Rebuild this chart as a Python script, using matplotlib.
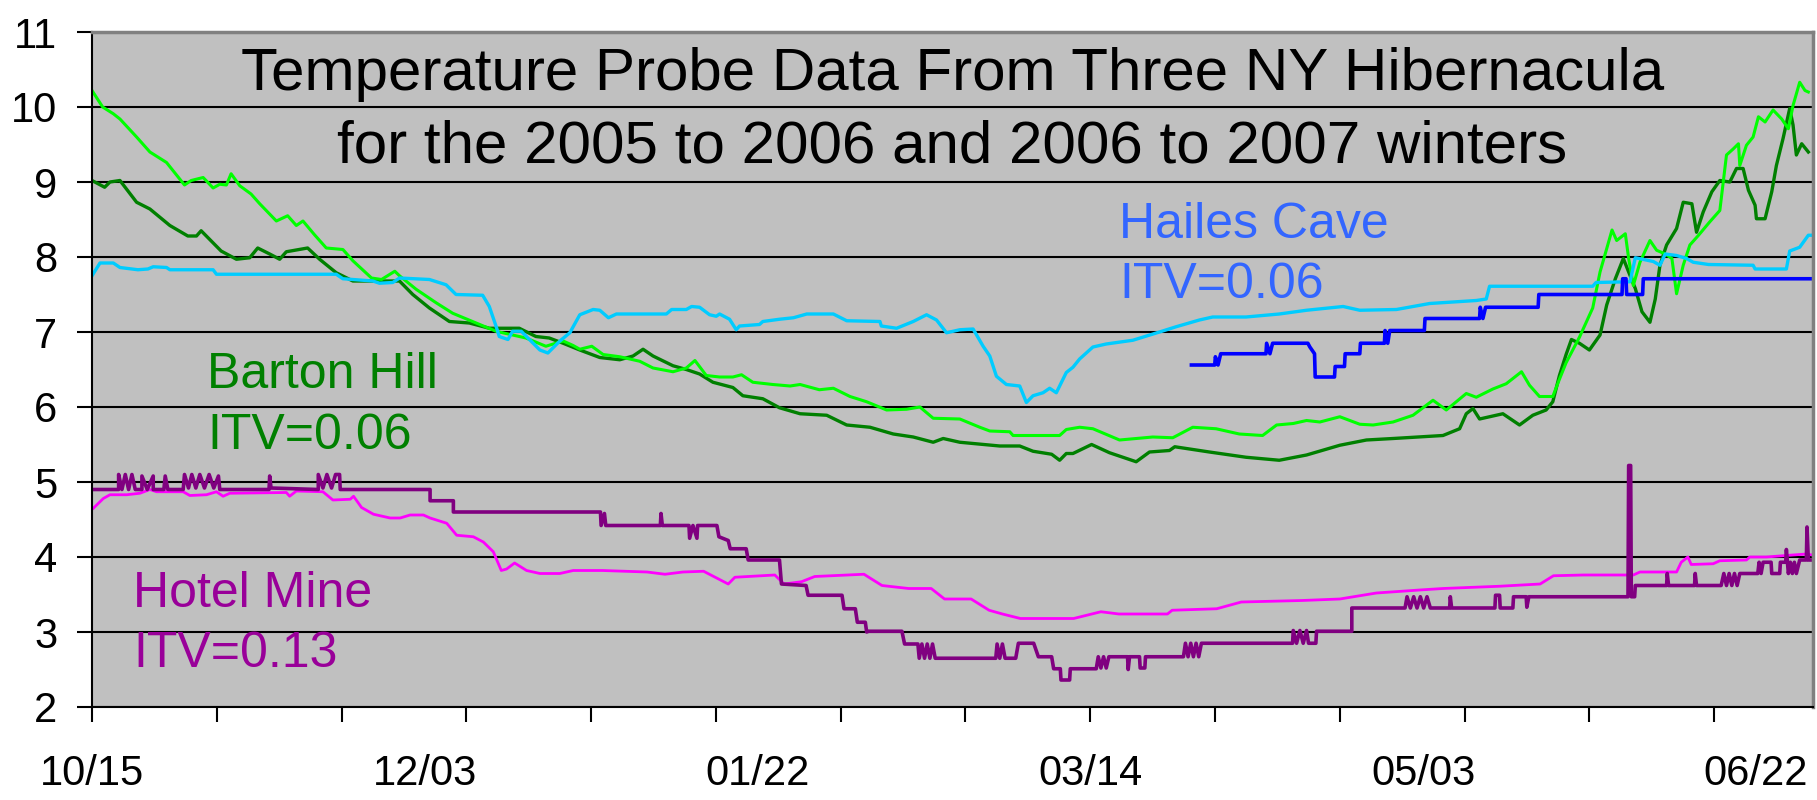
import numpy as np
import matplotlib
matplotlib.use("Agg")
import matplotlib.pyplot as plt

plt.rcParams['font.family'] = ['Liberation Sans', 'DejaVu Sans']

# x values are days counted from 10/15
# Barton Hill, first winter (light green)
barton_a_day = [0, 1.6, 3.2, 4.2, 6.7, 8.7, 11.2, 13.9, 14.9, 16.7, 18.2, 19.2, 20.2, 20.9, 22.2,
                23.9, 25.2, 27.7, 29.4, 30.7, 31.7, 33.4, 35.2, 37.7, 39.2, 42.0, 43.5, 45.5, 46.2,
                48.7, 51.7, 54.2, 57.7, 60.7, 65.2, 68.2, 70.8, 72.3, 73.3, 75.1, 76.8, 79.3, 82.3,
                84.3, 87.3, 89.3, 90.6, 92.3, 94.3, 96.3, 97.6, 99.3, 102.3, 104.9, 106.4, 109.3,
                111.4, 113.9, 116.4, 119.4, 122.4, 124.4, 126.4, 130.4, 133.4, 134.9, 137.9, 138.4,
                145.4, 146.4, 148.4, 150.4, 154.4, 159.4, 162.4, 165.4, 168.9, 172.4, 175.9, 178.0,
                180.5, 182.5, 184.5, 187.5, 190.5, 192.5, 195.5, 198.5, 201.5, 203.5, 206.5, 208.0,
                210.5, 212.5, 214.8, 216.0, 217.5, 219.5, 220.5, 221.5, 223.5, 225.5, 226.6, 228.4,
                229.1, 230.4, 230.9, 231.6, 232.6, 234.1, 235.1, 236.4, 237.4, 238.1, 239.1, 240.1,
                241.4, 243.1, 244.6, 245.6, 246.6, 247.4, 247.6, 248.6, 249.6, 250.4, 251.4, 252.6,
                253.9, 254.9, 255.6, 256.6, 257.4, 257.9]
barton_a_temp = [10.22, 10.0, 9.91, 9.84, 9.6, 9.4, 9.26, 8.96, 9.02, 9.06, 8.92, 8.97, 8.96, 9.11, 8.95,
                 8.84, 8.71, 8.48, 8.55, 8.42, 8.48, 8.30, 8.12, 8.10, 7.95, 7.72, 7.70, 7.81, 7.75,
                 7.57, 7.39, 7.25, 7.12, 7.01, 6.92, 6.81, 6.88, 6.82, 6.77, 6.81, 6.70, 6.67, 6.61,
                 6.52, 6.47, 6.52, 6.62, 6.42, 6.40, 6.40, 6.43, 6.33, 6.30, 6.28, 6.30, 6.23,
                 6.25, 6.14, 6.07, 5.96, 5.97, 6.0, 5.85, 5.84, 5.73, 5.68, 5.67, 5.62,
                 5.62, 5.70, 5.73, 5.71, 5.56, 5.60, 5.59, 5.73, 5.71, 5.64, 5.62, 5.76,
                 5.78, 5.82, 5.80, 5.87, 5.77, 5.76, 5.80, 5.89, 6.09, 5.96, 6.18, 6.13,
                 6.24, 6.31, 6.47, 6.29, 6.14, 6.14, 6.37, 6.59, 6.93, 7.32, 7.80, 8.36,
                 8.22, 8.31, 7.98, 7.62, 7.93, 8.22, 8.09, 8.04, 7.98, 7.51, 7.89, 8.16,
                 8.29, 8.47, 8.62, 9.36, 9.44, 9.51, 9.22, 9.49, 9.60, 9.87, 9.80, 9.96,
                 9.84, 9.71, 10.02, 10.33, 10.22, 10.20]

# Barton Hill, second winter (dark green)
barton_b_day = [0, 1.9, 2.7, 4.2, 6.7, 8.7, 11.7, 14.4, 15.7, 16.4, 19.4, 21.7, 23.7, 24.9, 26.7,
                28.2, 29.2, 32.4, 34.2, 36.7, 39.2, 46.2, 48.2, 50.7, 53.7, 56.7, 59.7, 64.2, 66.7,
                68.7, 70.8, 73.3, 74.8, 76.3, 79.3, 81.3, 82.8, 84.3, 87.3, 89.3, 91.3, 93.3, 96.3,
                97.8, 100.8, 103.3, 106.4, 110.4, 113.4, 116.9, 120.4, 123.4, 126.4, 127.9, 130.4,
                136.4, 139.4, 141.4, 144.2, 145.4, 146.4, 147.4, 150.2, 152.9, 156.9, 158.9, 161.9,
                162.7, 167.9, 173.4, 178.4, 182.5, 187.5, 191.5, 195.5, 203.0, 205.5, 206.5, 207.5,
                208.5, 212.0, 214.5, 216.5, 218.5, 219.5, 220.5, 221.5, 222.3, 223.5, 225.0, 226.6,
                227.6, 228.9, 230.1, 230.9, 231.9, 232.9, 234.1, 234.9, 235.6, 236.6, 238.1, 239.1,
                240.4, 241.1, 242.1, 243.4, 244.6, 246.1, 247.1, 248.1, 248.9, 249.9, 250.1, 251.4,
                252.4, 253.1, 254.1, 255.1, 255.6, 256.1, 256.9, 257.9]
barton_b_temp = [9.02, 8.93, 9.0, 9.02, 8.73, 8.64, 8.42, 8.28, 8.28, 8.35, 8.08, 7.97, 7.99, 8.12, 8.04,
                 7.97, 8.07, 8.12, 7.97, 7.79, 7.68, 7.68, 7.50, 7.32, 7.14, 7.12, 7.05, 7.05, 6.94,
                 6.92, 6.85, 6.76, 6.71, 6.66, 6.63, 6.68, 6.77, 6.68, 6.55, 6.50, 6.44, 6.33, 6.26,
                 6.15, 6.11, 5.99, 5.91, 5.89, 5.76, 5.73, 5.64, 5.60, 5.53, 5.58, 5.53,
                 5.48, 5.48, 5.41, 5.37, 5.29, 5.38, 5.38, 5.50, 5.39, 5.27, 5.40, 5.42,
                 5.47, 5.40, 5.33, 5.29, 5.36, 5.49, 5.56, 5.58, 5.62, 5.71, 5.91, 5.98,
                 5.84, 5.91, 5.76, 5.89, 5.96, 6.07, 6.42, 6.70, 6.90, 6.85, 6.76, 6.96,
                 7.36, 7.71, 7.98, 7.80, 7.58, 7.27, 7.13, 7.44, 7.89, 8.16, 8.38, 8.73,
                 8.71, 8.33, 8.60, 8.87, 9.02, 9.00, 9.18, 9.18, 8.89, 8.69, 8.51, 8.51,
                 8.87, 9.22, 9.58, 9.98, 9.76, 9.36, 9.51, 9.40]

# Hailes Cave, first winter (light blue)
hailes_a_day = [0, 1.2, 3.2, 4.2, 6.9, 8.4, 9.2, 11.2, 11.7, 18.2, 18.7, 36.7, 37.7, 42.2, 43.2, 45.2,
                46.2, 50.7, 53.2, 54.7, 58.7, 59.7, 60.7, 61.2, 62.5, 63.2, 64.5, 67.3, 68.5, 70.3,
                71.8, 73.3, 75.3, 76.3, 77.6, 78.8, 86.3, 87.1, 89.3, 90.1, 91.3, 92.8, 93.8, 94.3,
                95.8, 96.8, 97.3, 100.3, 100.8, 103.3, 105.4, 107.4, 111.4, 113.4, 118.4, 118.6,
                120.9, 123.4, 125.4, 126.9, 128.4, 130.4, 132.4, 133.9, 134.9, 135.9, 137.4, 139.4,
                140.4, 141.4, 142.9, 143.9, 144.9, 146.4, 147.4, 148.4, 150.4, 152.4, 156.4, 160.4,
                162.9, 166.4, 168.4, 173.4, 178.4, 182.5, 188.0, 190.5, 196.0, 201.0, 208.0, 209.5,
                210.0, 225.5, 226.0, 231.1, 231.9, 234.6, 235.6, 236.4, 238.1, 239.6, 240.6, 242.9,
                249.6, 249.9, 254.6, 255.1, 256.6, 257.9, 258.9]
hailes_a_temp = [7.75, 7.92, 7.92, 7.86, 7.83, 7.84, 7.87, 7.86, 7.83, 7.83, 7.77, 7.77, 7.71, 7.68, 7.65, 7.66,
                 7.72, 7.70, 7.63, 7.50, 7.49, 7.34, 7.08, 6.94, 6.90, 7.01, 7.01, 6.76, 6.72, 6.88,
                 6.99, 7.23, 7.30, 7.29, 7.19, 7.24, 7.24, 7.30, 7.30, 7.34, 7.33, 7.23, 7.21, 7.24,
                 7.17, 7.03, 7.08, 7.10, 7.14, 7.17, 7.19, 7.24, 7.24, 7.15, 7.14, 7.08,
                 7.05, 7.14, 7.23, 7.16, 6.99, 7.03, 7.04, 6.81, 6.68, 6.41, 6.30, 6.28,
                 6.06, 6.15, 6.19, 6.25, 6.19, 6.46, 6.53, 6.64, 6.80, 6.84, 6.89, 7.00,
                 7.07, 7.16, 7.20, 7.20, 7.24, 7.29, 7.34, 7.29, 7.30, 7.38, 7.42, 7.44,
                 7.61, 7.61, 7.66, 7.67, 7.99, 7.94, 7.89, 8.04, 8.02, 7.98, 7.93, 7.90,
                 7.89, 7.84, 7.84, 8.08, 8.13, 8.29, 8.29]

# Hailes Cave, second winter (blue, starts late)
hailes_b_day = [165.2, 168.7, 168.8, 169.2, 169.6, 176.4, 176.5, 177.0, 177.4, 182.7, 183.0, 183.7,
                183.8, 186.7, 186.8, 188.2, 188.3, 190.5, 190.6, 194.2, 194.3, 194.7, 195.0, 200.2,
                200.3, 208.5, 208.6, 209.0, 209.4, 217.3, 217.4, 229.9, 230.0, 230.5, 230.6, 233.0,
                233.1, 258.9]
hailes_b_temp = [6.56, 6.56, 6.67, 6.56, 6.71, 6.71, 6.85, 6.71, 6.85, 6.85, 6.80, 6.71,
                 6.40, 6.40, 6.54, 6.54, 6.71, 6.71, 6.85, 6.85, 7.02, 6.85, 7.02, 7.02,
                 7.18, 7.18, 7.33, 7.18, 7.33, 7.33, 7.50, 7.50, 7.71, 7.71, 7.50, 7.50,
                 7.71, 7.71]

# Hotel Mine, first winter (magenta)
hotel_a_day = [0.2, 1.7, 2.7, 5.2, 7.2, 8.7, 9.7, 13.7, 14.7, 17.2, 18.7, 19.7, 20.7, 29.2, 29.7, 30.7,
               34.7, 36.2, 38.8, 39.3, 40.5, 42.3, 44.8, 46.3, 47.8, 49.8, 50.8, 53.3, 54.8, 57.3,
               58.8, 60.3, 61.5, 62.3, 63.5, 65.3, 67.3, 70.3, 72.3, 76.7, 83.4, 86.1, 88.8, 91.9,
               95.6, 96.6, 102.6, 104.0, 106.6, 108.6, 116.0, 118.7, 122.7, 126.1, 128.1, 132.1,
               134.8, 136.8, 139.5, 147.5, 151.6, 154.3, 161.6, 162.3, 169.0, 172.7, 181.8, 187.5,
               193.0, 199.5, 203.0, 211.5, 217.6, 219.6, 224.1, 231.6, 232.6, 238.1, 238.8, 239.8,
               240.3, 243.6, 244.6, 248.6, 249.1, 251.6, 257.6, 258.9]
hotel_a_temp = [4.65, 4.78, 4.83, 4.83, 4.85, 4.90, 4.87, 4.87, 4.82, 4.83, 4.87, 4.81, 4.85, 4.86, 4.81, 4.88,
                4.87, 4.76, 4.77, 4.81, 4.66, 4.57, 4.52, 4.52, 4.56, 4.56, 4.52, 4.45, 4.29, 4.27,
                4.20, 4.07, 3.82, 3.84, 3.92, 3.82, 3.78, 3.78, 3.82, 3.82, 3.80, 3.77, 3.80, 3.81,
                3.64, 3.73, 3.76, 3.64, 3.67, 3.74, 3.77, 3.62, 3.58, 3.58, 3.44, 3.44,
                3.29, 3.24, 3.18, 3.18, 3.27, 3.24, 3.24, 3.29, 3.31, 3.40, 3.42, 3.44,
                3.52, 3.56, 3.58, 3.61, 3.64, 3.75, 3.76, 3.76, 3.80, 3.80, 3.93, 4.00,
                3.90, 3.91, 3.95, 3.96, 4.00, 4.00, 4.04, 4.02]

# Hotel Mine, second winter (purple, stepped logger)
hotel_b_day = [0.0, 4.0, 4.0, 4.5, 5.0, 5.5, 6.0, 6.5, 7.5, 7.5, 8.3, 9.2, 9.2, 10.8, 11.0, 11.4,
               13.7, 13.9, 14.5, 15.0, 15.6, 16.2, 16.9, 17.6, 18.3, 19.0, 19.2, 26.6, 26.7, 26.9,
               34.0, 34.0, 34.7, 35.3, 36.0, 36.6, 37.2, 37.3, 50.8, 50.8, 54.3, 54.3, 76.4, 76.5,
               77.0, 77.2, 85.4, 85.5, 85.7, 89.7, 89.8, 90.3, 90.9, 91.0, 93.9, 94.2, 95.6, 95.9,
               98.3, 98.6, 103.3, 103.6, 107.3, 107.6, 112.7, 113.0, 114.7, 115.0, 116.2, 116.4,
               116.7, 121.7, 122.1, 124.1, 124.3, 124.7, 125.1, 125.5, 125.9, 126.3, 126.7, 135.8,
               136.0, 136.4, 136.8, 137.2, 138.8, 139.2, 141.5, 142.2, 144.2, 144.5, 145.5, 145.6,
               146.9, 147.0, 150.9, 151.2, 151.6, 152.0, 152.4, 152.8, 155.6, 155.7, 155.9, 157.4,
               157.5, 158.2, 158.3, 164.0, 164.3, 164.7, 165.1, 165.5, 165.9, 166.3, 166.7, 180.4,
               180.5, 181.0, 181.5, 182.0, 182.5, 182.8, 183.9, 184.0, 189.3, 189.3, 197.3, 197.6,
               198.1, 198.6, 199.1, 199.6, 200.1, 200.6, 201.1, 204.0, 204.1, 204.3, 210.8, 210.9,
               211.5, 211.6, 213.5, 213.6, 215.5, 215.6, 215.9, 230.8, 230.9, 231.2, 231.3, 231.8,
               231.9, 236.6, 236.7, 236.9, 240.8, 240.9, 241.1, 244.8, 245.2, 245.6, 246.0, 246.4,
               246.8, 247.2, 247.6, 250.3, 250.5, 250.8, 251.1, 252.3, 252.4, 253.6, 253.7, 254.5,
               254.6, 254.9, 255.2, 255.5, 255.8, 256.1, 256.6, 257.6, 257.7, 257.9, 258.9]
hotel_b_temp = [4.90, 4.90, 5.10, 4.90, 5.10, 4.90, 5.10, 4.90, 4.90, 5.08, 4.90, 5.08, 4.90, 4.90, 5.08, 4.90,
                4.90, 5.10, 4.92, 5.10, 4.92, 5.10, 4.92, 5.10, 4.92, 5.08, 4.90, 4.90, 5.08, 4.92,
                4.90, 5.10, 4.92, 5.10, 4.92, 5.10, 5.10, 4.90, 4.90, 4.75, 4.75, 4.60, 4.60, 4.42,
                4.58, 4.42, 4.42, 4.58, 4.42, 4.42, 4.25, 4.42, 4.25, 4.42, 4.42, 4.27, 4.22, 4.11,
                4.11, 3.96, 3.96, 3.64, 3.62, 3.49, 3.49, 3.31, 3.31, 3.13, 3.13, 3.00,
                3.01, 3.01, 2.84, 2.84, 2.65, 2.84, 2.65, 2.84, 2.65, 2.84, 2.65, 2.65,
                2.84, 2.65, 2.84, 2.65, 2.65, 2.85, 2.85, 2.67, 2.67, 2.51, 2.51, 2.36,
                2.36, 2.51, 2.51, 2.67, 2.52, 2.67, 2.52, 2.67, 2.67, 2.50, 2.67, 2.67,
                2.52, 2.52, 2.67, 2.67, 2.85, 2.67, 2.85, 2.67, 2.85, 2.67, 2.85, 2.85,
                3.02, 2.85, 3.02, 2.85, 3.02, 2.85, 2.85, 3.01, 3.01, 3.32, 3.32, 3.47,
                3.32, 3.47, 3.32, 3.47, 3.32, 3.47, 3.32, 3.32, 3.47, 3.32, 3.32, 3.49,
                3.49, 3.32, 3.32, 3.47, 3.47, 3.33, 3.47, 3.47, 5.22, 5.22, 3.47, 3.47,
                3.62, 3.62, 3.78, 3.62, 3.62, 3.78, 3.62, 3.62, 3.78, 3.62, 3.78, 3.62,
                3.78, 3.62, 3.78, 3.78, 3.93, 3.78, 3.93, 3.93, 3.78, 3.78, 3.93, 3.93,
                4.10, 3.78, 3.93, 3.78, 3.93, 3.78, 3.96, 3.96, 4.40, 3.96, 3.96]

label_days = [0, 50, 100, 150, 200, 250]
label_text = ['10/15', '12/03', '01/22', '03/14', '05/03', '06/22']
y_ticks = [2, 3, 4, 5, 6, 7, 8, 9, 10, 11]

fig = plt.figure(figsize=(18.17, 8.0), dpi=100)
ax = fig.add_axes([92 / 1817, 1 - 707 / 800, (1813 - 92) / 1817, (707 - 32) / 800])
ax.set_facecolor('#C0C0C0')

ax.plot(barton_b_day, barton_b_temp, color='#008000', lw=2.4)
ax.plot(barton_a_day, barton_a_temp, color='#00FF00', lw=2.2)
ax.plot(hailes_a_day, hailes_a_temp, color='#00CCFF', lw=2.4)
ax.plot(hailes_b_day, hailes_b_temp, color='#0000FF', lw=2.6)
ax.plot(hotel_a_day, hotel_a_temp, color='#FF00FF', lw=2.0)
ax.plot(hotel_b_day, hotel_b_temp, color='#800080', lw=2.6)

ax.set_xlim(0, 258.6)
ax.set_ylim(2, 11)

# tick marks every 18.75 days, date labels every 50 days (minor ticks, no mark)
ax.xaxis.remove_overlapping_locs = False
ax.set_xticks(np.arange(0, 250, 18.75))
ax.set_xticklabels([])
ax.set_xticks(label_days, minor=True)
ax.set_xticklabels(label_text, minor=True, fontsize=30)
ax.tick_params(axis='x', which='major', length=11, width=1.5, direction='out')
ax.tick_params(axis='x', which='minor', length=0, pad=34)

ax.set_yticks(y_ticks)
ax.set_yticklabels([str(v) for v in y_ticks], fontsize=30)
ax.tick_params(axis='y', length=11, width=1.5, direction='out', pad=14)

ax.set_axisbelow(True)
ax.yaxis.grid(True, color='black', lw=1.5)

ax.spines['left'].set_color('black')
ax.spines['bottom'].set_color('black')
ax.spines['left'].set_linewidth(1.5)
ax.spines['bottom'].set_linewidth(1.5)
ax.spines['top'].set_color('#808080')
ax.spines['right'].set_color('#808080')
ax.spines['top'].set_linewidth(2.5)
ax.spines['right'].set_linewidth(2.5)

# title sits inside the plot area
ax.text(0.5, 0.914, 'Temperature Probe Data From Three NY Hibernacula', transform=ax.transAxes,
        ha='center', va='baseline', fontsize=43.3)
ax.text(0.5, 0.806, 'for the 2005 to 2006 and 2006 to 2007 winters', transform=ax.transAxes,
        ha='center', va='baseline', fontsize=43.3)

# site labels
ax.text(17.3, 6.25, 'Barton Hill', color='#008000', fontsize=36, va='baseline')
ax.text(17.3, 5.44, 'ITV=0.06', color='#008000', fontsize=36, va='baseline')
ax.text(6.2, 3.33, 'Hotel Mine', color='#990099', fontsize=36, va='baseline')
ax.text(6.2, 2.53, 'ITV=0.13', color='#990099', fontsize=36, va='baseline')
ax.text(154.3, 8.25, 'Hailes Cave', color='#3366FF', fontsize=36, va='baseline')
ax.text(154.3, 7.45, 'ITV=0.06', color='#3366FF', fontsize=36, va='baseline')

fig.savefig('out.png', dpi=100)
